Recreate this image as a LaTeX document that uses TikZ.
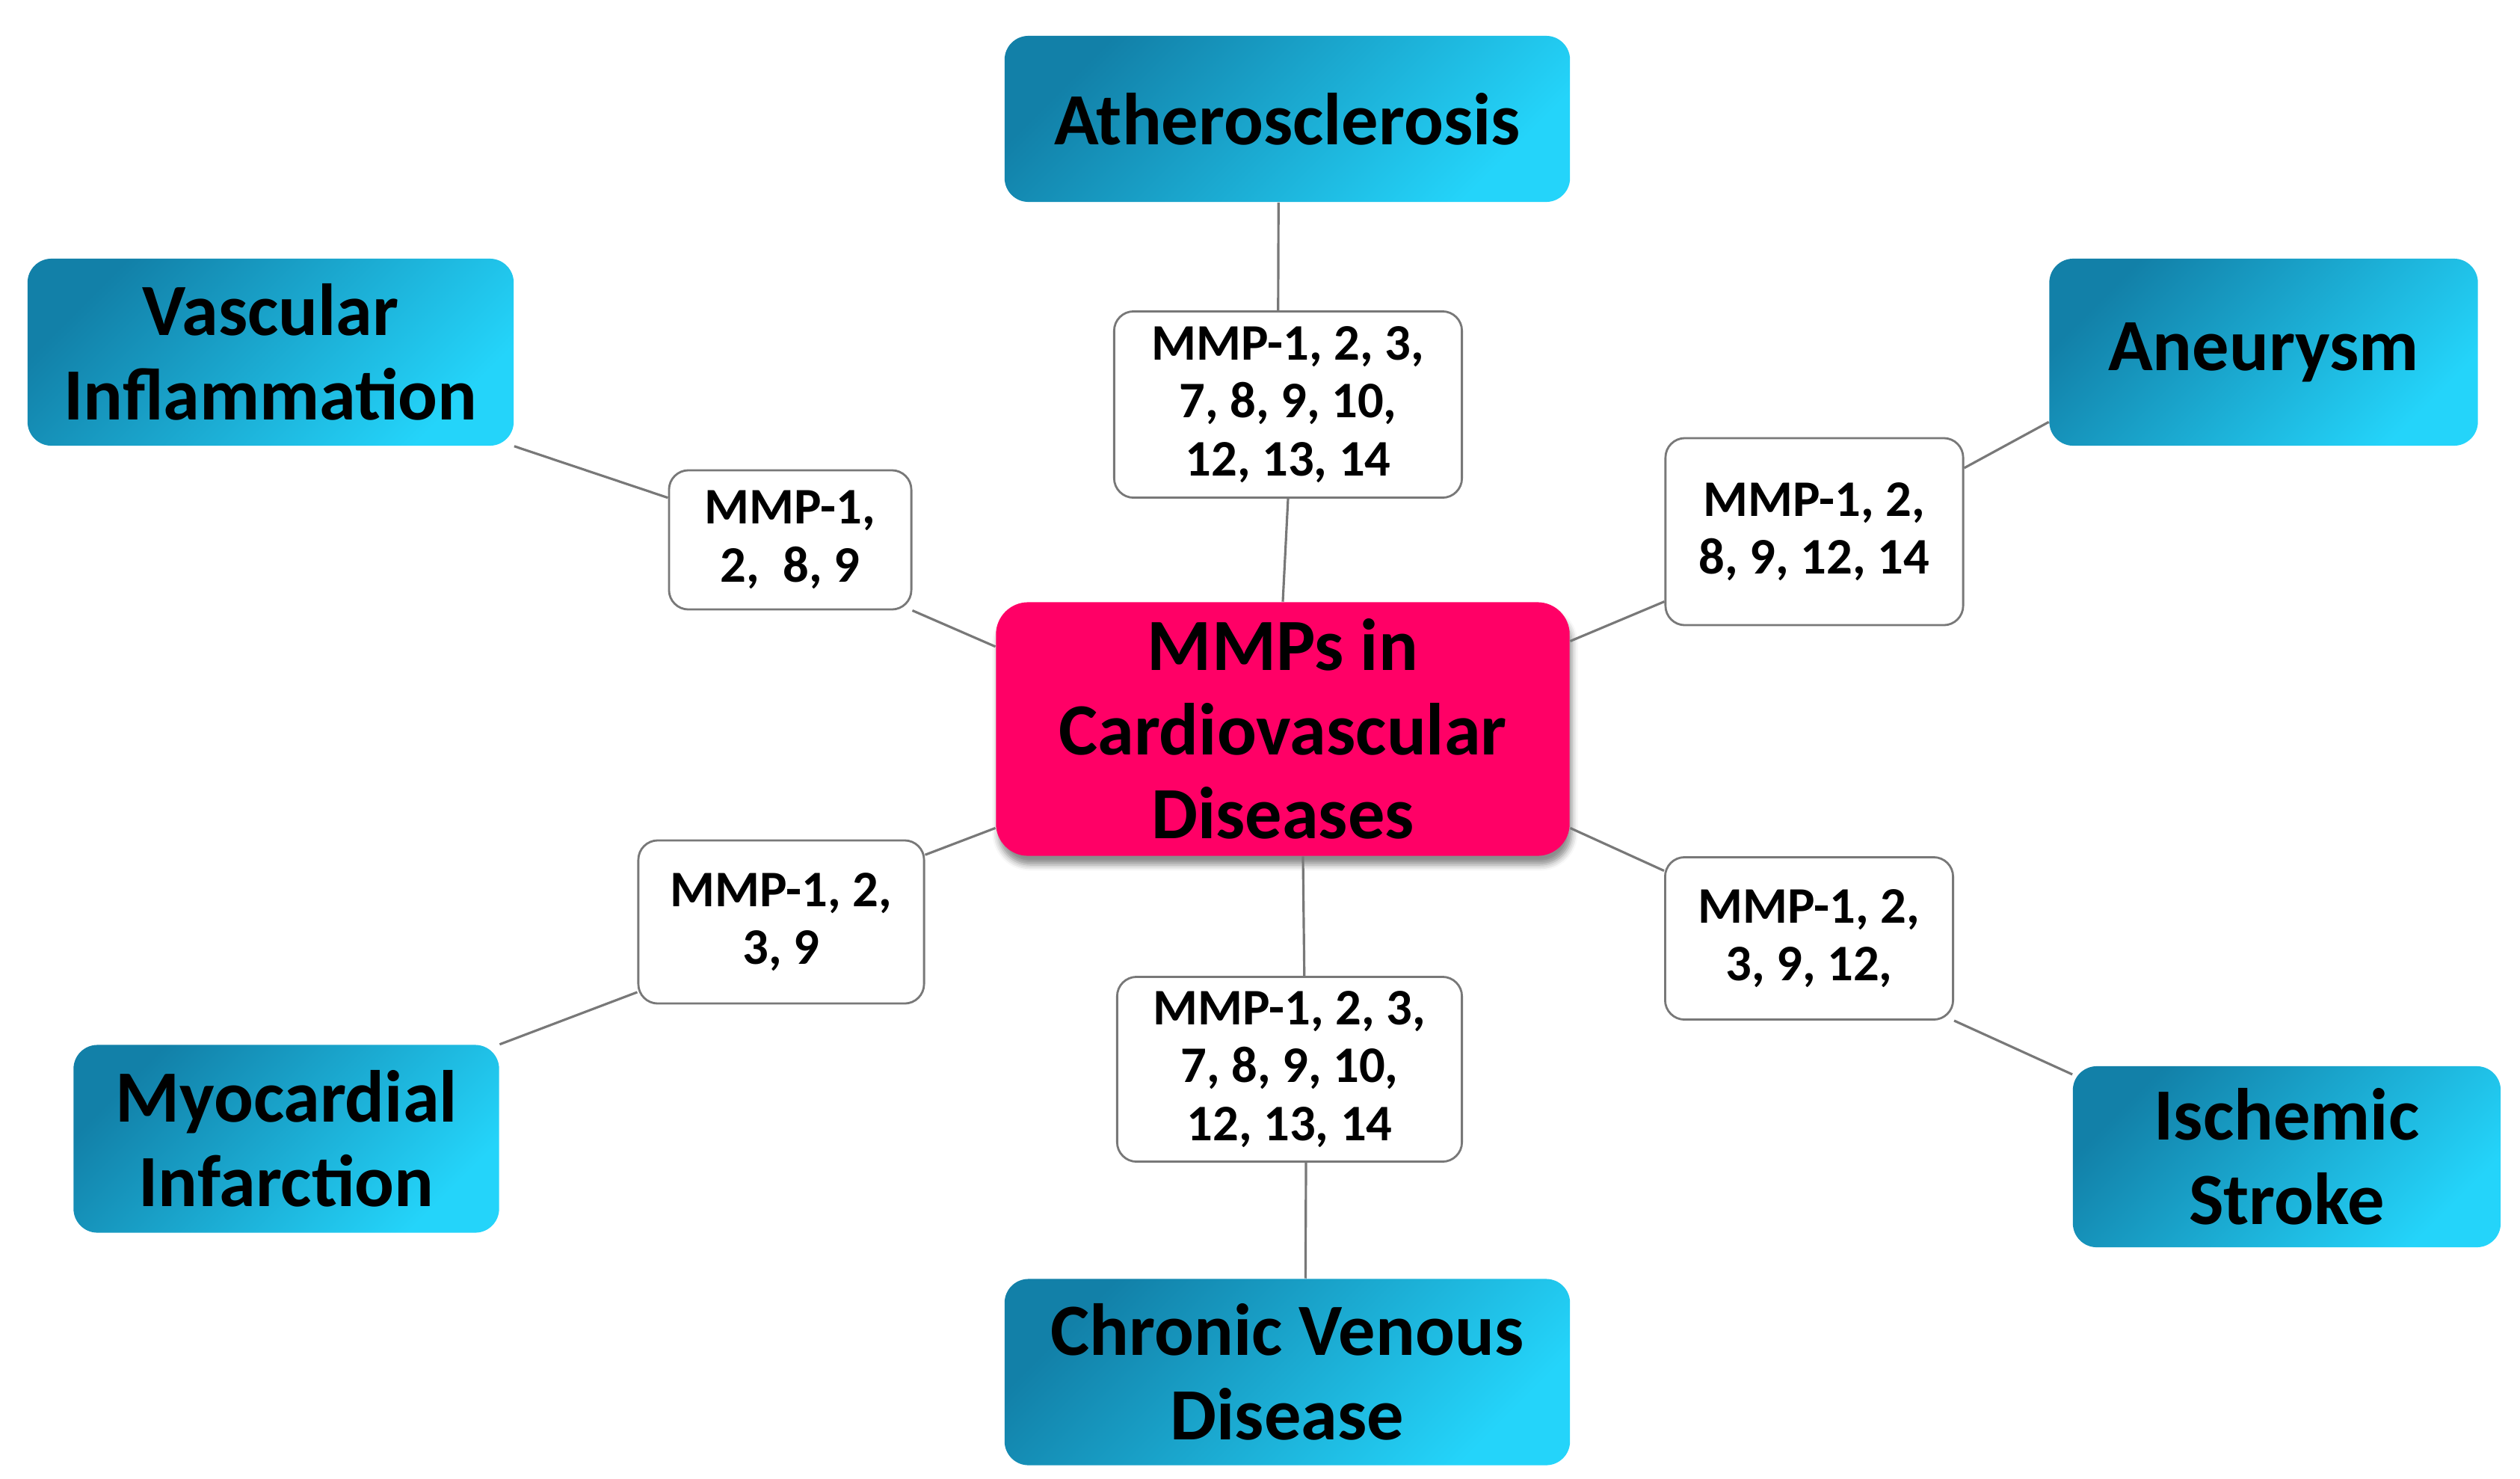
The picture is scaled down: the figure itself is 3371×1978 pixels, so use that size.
\documentclass[tikz,border=0pt]{standalone}
\usepackage{fontspec}
\setmainfont{Carlito}
\usepackage{tikz}
\usetikzlibrary{shapes,shadows.blur}
\definecolor{mydark}{RGB}{18,128,168}
\definecolor{mylight}{RGB}{36,212,250}
\definecolor{mypink}{RGB}{255,0,102}
\definecolor{mygray}{RGB}{120,120,120}

\begin{document}
\begin{tikzpicture}[x=0.01cm,y=-0.01cm,
		  disease/.style={rectangle,rounded corners=0.32cm,inner sep=0pt,
		    top color=mydark,bottom color=mylight,shading angle=45,
		    align=center,font=\fontsize{28}{32}\selectfont\bfseries},
		  mmps/.style={rectangle,rounded corners=0.26cm,inner sep=0pt,
		    draw=mygray,line width=0.8pt,fill=white,
		    align=center,font=\fontsize{19.5}{22}\selectfont\bfseries},
		  hub/.style={rectangle,rounded corners=0.43cm,inner sep=0pt,fill=mypink,
		    blur shadow={shadow xshift=0.03cm,shadow yshift=-0.12cm,shadow blur radius=0.08cm,shadow opacity=45},
		    align=center,font=\fontsize{28}{32}\selectfont\bfseries},
		  link/.style={draw=mygray,line width=0.9pt}
		]

			\useasboundingbox (0,0) rectangle (3371,1978);

			% the centre
			\node[hub,minimum width=7.67cm,minimum height=3.39cm] (mmp) at (1716,975)
			  {MMPs in\\Cardiovascular\\Diseases};

			% the diseases
			\node[disease,minimum width=7.56cm,minimum height=2.22cm] (ath) at (1722,159) {Atherosclerosis};
			\node[disease,minimum width=6.50cm,minimum height=2.50cm] (vi) at (362,471) {Vascular\\Inflammation};
			\node[disease,minimum width=5.73cm,minimum height=2.50cm] (an) at (3028,471) {Aneurysm};
			\node[disease,minimum width=5.69cm,minimum height=2.51cm] (mi) at (383,1523) {Myocardial\\Infarction};
			\node[disease,minimum width=7.56cm,minimum height=2.49cm] (cvd) at (1722,1835) {Chronic Venous\\Disease};
			\node[disease,minimum width=5.72cm,minimum height=2.42cm] (is) at (3059,1547) {Ischemic\\Stroke};

			% the MMP lists
			\node[mmps,minimum width=4.65cm,minimum height=2.49cm] (lath) at (1723,541) {MMP-1, 2, 3,\\7, 8, 9, 10,\\12, 13, 14};
			\node[mmps,minimum width=3.24cm,minimum height=1.86cm] (lvi) at (1057,722) {MMP-1,\\2,~ 8, 9};
			\node[mmps,minimum width=3.98cm,minimum height=2.50cm] (lan) at (2427,711) {MMP-1, 2,\\8, 9, 12, 14};
			\node[mmps,minimum width=3.82cm,minimum height=2.18cm] (lmi) at (1045,1233) {MMP-1, 2,\\3, 9};
			\node[mmps,minimum width=4.61cm,minimum height=2.47cm] (lcvd) at (1725,1430) {MMP-1, 2, 3,\\7, 8, 9, 10,\\12, 13, 14};
			\node[mmps,minimum width=3.85cm,minimum height=2.17cm] (lis) at (2420,1255) {MMP-1, 2,\\3, 9, 12,};

			% the links
			\draw[link] (ath.-96) -- (lath.96);
			\draw[link] (lath.south) -- (mmp.north);
			\draw[link] (vi.south east) -- (lvi.161);
			\draw[link] (lvi.south east) -- (mmp.164);
			\draw[link] (an.198) -- (lan.23);
			\draw[link] (lan.205) -- (mmp.17);
			\draw[link] (mmp.199) -- (lmi.25);
			\draw[link] (lmi.206) -- (mi.north east);
			\draw[link] (mmp.-81) -- (lcvd.81);
			\draw[link] (lcvd.-80) -- (cvd.79);
			\draw[link] (mmp.-19) -- (lis.155);
			\draw[link] (lis.south east) -- (is.159);

		\end{tikzpicture}
\end{document}
